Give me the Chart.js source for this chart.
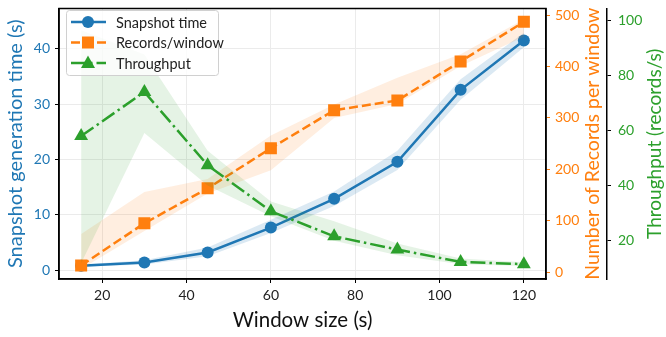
<!DOCTYPE html>
<html>
<head>
<meta charset="utf-8">
<script src="https://cdn.jsdelivr.net/npm/chart.js@4.4.1/dist/chart.umd.min.js"></script>
<style>
  html, body { margin: 0; padding: 0; background: #fff; }
  canvas { display: block; }
</style>
</head>
<body>
<canvas id="chart" width="666" height="337"></canvas>
<script>
// window sizes (s)
const windowSizes = [15, 30, 45, 60, 75, 90, 105, 120];

// snapshot generation time (s), left axis
const snapshotTime = [0.8, 1.4, 3.2, 7.7, 12.9, 19.6, 32.6, 41.5];
const snapshotLow  = [0.6, 1.0, 2.5, 6.7, 11.6, 18.1, 30.8, 40.3];
const snapshotHigh = [1.0, 1.8, 4.1, 9.1, 14.2, 21.6, 34.5, 42.9];

// records per window, first right axis
const records     = [13, 95, 163, 241, 315, 334, 410, 487];
const recordsLow  = [6, 80, 153, 198, 300, 327, 401, 458];
const recordsHigh = [74, 156, 181, 266, 326, 378, 424, 492];

// throughput (records/s), second right axis
const throughput     = [58.0, 74.0, 47.4, 30.7, 21.6, 16.8, 12.3, 11.5];
const throughputLow  = [11.8, 59.1, 40.0, 28.9, 20.0, 14.7, 11.5, 10.8];
const throughputHigh = [96.4, 87.6, 52.7, 34.2, 27.1, 19.0, 13.5, 12.2];

// tick labels
const xTicks = [20, 40, 60, 80, 100, 120];
const timeTicks = [0, 10, 20, 30, 40];
const recordTicks = [0, 100, 200, 300, 400, 500];
const throughputTicks = [20, 40, 60, 80, 100];

const BLUE = '#1f77b4', ORANGE = '#ff7f0e', GREEN = '#2ca02c';
const FONT = 'Lato';
const DASH = [9, 4], DASHDOT = [15, 4, 2.5, 4];

const pts = arr => windowSizes.map((x, i) => ({ x, y: arr[i] }));

function band(hi, lo, axis, color, order) {
  return [
    { data: pts(hi), yAxisID: axis, fill: '+1', backgroundColor: color,
      borderWidth: 0, pointRadius: 0, order },
    { data: pts(lo), yAxisID: axis, fill: false, borderWidth: 0,
      pointRadius: 0, order }
  ];
}

const fixTicks = list => axis => { axis.ticks = list.map(v => ({ value: v })); };
// fixed box sizes, no extra room for overhanging labels
const fitSize = (w, h) => s => {
  if (w) s.width = w;
  if (h) s.height = h;
  s.paddingTop = s.paddingBottom = s.paddingLeft = s.paddingRight = 0;
};

const frame = {
  id: 'frame',
  afterDraw(chart) {
    const { ctx, chartArea: a } = chart;
    ctx.save();
    ctx.strokeStyle = '#000';
    ctx.lineWidth = 1.5;
    ctx.strokeRect(a.left, a.top, a.right - a.left, a.bottom - a.top);

    // right hand axis titles, read bottom to top
    ctx.textAlign = 'center';
    ctx.textBaseline = 'middle';
    const cy = (a.top + a.bottom) / 2;
    [['Number of Records per window', ORANGE, 593, 19.5], ['Throughput (records/s)', GREEN, 655, 19]]
      .forEach(([t, c, x, size]) => {
        ctx.save();
        ctx.translate(x, cy);
        ctx.rotate(-Math.PI / 2);
        ctx.font = size + 'px ' + FONT;
        ctx.fillStyle = c;
        ctx.fillText(t, 0, 0);
        ctx.restore();
      });

    // legend
    const lx = 66, ly = 10, lw = 152, lh = 65;
    ctx.fillStyle = 'rgba(255,255,255,0.8)';
    ctx.strokeStyle = '#d0d0d0';
    ctx.lineWidth = 1;
    ctx.beginPath();
    ctx.roundRect(lx + 0.5, ly + 0.5, lw, lh, 3);
    ctx.fill();
    ctx.stroke();
    const rows = [
      ['Snapshot time', BLUE, [], 'circle'],
      ['Records/window', ORANGE, DASH, 'rect'],
      ['Throughput', GREEN, DASHDOT, 'triangle']
    ];
    rows.forEach(([t, c, dash, m], i) => {
      const y = 22 + i * 20.5;
      ctx.strokeStyle = c;
      ctx.fillStyle = c;
      ctx.lineWidth = 2.5;
      ctx.setLineDash(dash);
      ctx.beginPath();
      ctx.moveTo(71, y);
      ctx.lineTo(106, y);
      ctx.stroke();
      ctx.setLineDash([]);
      ctx.beginPath();
      if (m === 'circle') ctx.arc(88, y, 6, 0, Math.PI * 2);
      else if (m === 'rect') ctx.rect(82, y - 6, 12, 12);
      else { ctx.moveTo(88, y - 7.5); ctx.lineTo(95, y + 5); ctx.lineTo(81, y + 5); ctx.closePath(); }
      ctx.fill();
      ctx.fillStyle = '#222';
      ctx.font = '14.5px ' + FONT;
      ctx.textAlign = 'left';
      ctx.fillText(t, 116, y + 1);
    });
    ctx.restore();
  }
};

new Chart(document.getElementById('chart'), {
  type: 'line',
  data: {
    datasets: [
      { label: 'Throughput', data: pts(throughput), yAxisID: 'yG', borderColor: GREEN,
        backgroundColor: GREEN, borderWidth: 2.5, borderDash: DASHDOT,
        pointStyle: 'triangle', pointRadius: 8, pointBorderWidth: 0, fill: false, order: 0 },
      ...band(throughputHigh, throughputLow, 'yG', 'rgba(44,160,44,0.12)', 1),
      { label: 'Records/window', data: pts(records), yAxisID: 'yR', borderColor: ORANGE,
        backgroundColor: ORANGE, borderWidth: 2.5, borderDash: DASH,
        pointStyle: 'rect', pointRadius: 8.5, pointBorderWidth: 0, fill: false, order: 2 },
      ...band(recordsHigh, recordsLow, 'yR', 'rgba(255,127,14,0.13)', 3),
      { label: 'Snapshot time', data: pts(snapshotTime), yAxisID: 'yL', borderColor: BLUE,
        backgroundColor: BLUE, borderWidth: 2.5, pointStyle: 'circle', pointRadius: 6,
        pointBorderWidth: 0, fill: false, order: 4 },
      ...band(snapshotHigh, snapshotLow, 'yL', 'rgba(31,119,180,0.16)', 5)
    ]
  },
  options: {
    responsive: false,
    animation: false,
    events: [],
    layout: { padding: { top: 3, left: 0, right: 0, bottom: 0 } },
    plugins: { legend: { display: false }, tooltip: { enabled: false } },
    elements: { line: { tension: 0 } },
    scales: {
      x: {
        type: 'linear', position: 'bottom', min: 9.75, max: 125.25,
        afterBuildTicks: fixTicks(xTicks),
        afterFit: fitSize(0, 58),
        grid: { color: '#ebebeb', tickColor: '#000', tickLength: 4 },
        border: { color: '#000', width: 1.5 },
        ticks: { color: '#222', font: { family: FONT, size: 14 }, padding: 4 },
        title: { display: true, text: 'Window size (s)', color: '#111',
                 font: { family: FONT, size: 20.5 }, padding: { top: 0, bottom: 4 } }
      },
      yL: {
        type: 'linear', position: 'left', min: -1.6, max: 47.3,
        afterBuildTicks: fixTicks(timeTicks),
        afterFit: fitSize(59, 0),
        grid: { color: '#ebebeb', tickColor: '#000', tickLength: 4 },
        border: { color: '#000', width: 1.5 },
        ticks: { color: BLUE, font: { family: FONT, size: 14 }, padding: 5 },
        title: { display: true, text: 'Snapshot generation time (s)', color: BLUE,
                 font: { family: FONT, size: 20 }, padding: { top: 4, bottom: 0 } }
      },
      yR: {
        type: 'linear', position: 'right', min: -13.4, max: 513,
        afterBuildTicks: fixTicks(recordTicks),
        afterFit: fitSize(61, 0),
        grid: { drawOnChartArea: false, tickColor: ORANGE, tickLength: 4 },
        border: { color: '#000', width: 1.5 },
        ticks: { color: ORANGE, font: { family: FONT, size: 14 }, padding: 5 }
      },
      yG: {
        type: 'linear', position: 'right', min: 6.1, max: 104.3,
        afterBuildTicks: fixTicks(throughputTicks),
        afterFit: fitSize(59, 0),
        grid: { drawOnChartArea: false, tickColor: '#000', tickLength: 4 },
        border: { color: '#000', width: 1.5 },
        ticks: { color: GREEN, font: { family: FONT, size: 14 }, padding: 7 }
      }
    }
  },
  plugins: [frame]
});
</script>
</body>
</html>
